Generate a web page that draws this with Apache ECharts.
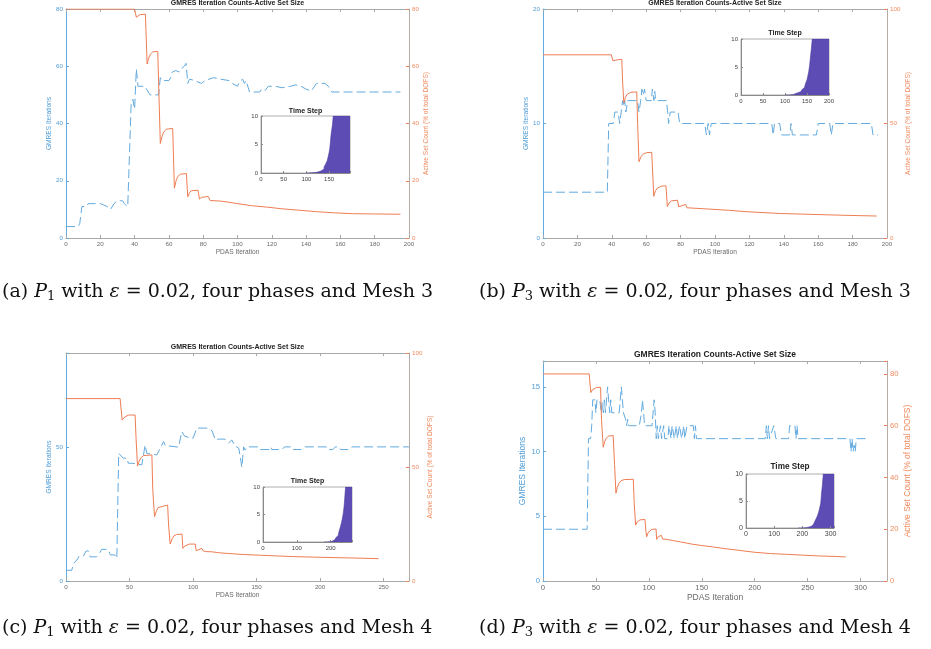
<!DOCTYPE html>
<html><head><meta charset="utf-8">
<script src="https://cdn.jsdelivr.net/npm/echarts@6/dist/echarts.min.js"></script>
<style>html,body{margin:0;padding:0;background:#fff}#c{width:931px;height:649px}</style>
</head><body><div id="c"></div>
<script>
// ---------- DATA ----------
const chartTitle = 'GMRES Iteration Counts-Active Set Size';
const insetTitle = 'Time Step';
const xName = 'PDAS Iteration';
const yLeftName = 'GMRES Iterations';
const yRightName = 'Active Set Count (% of total DOFS)';
const captions = [
  '(a) {i|P}{s|1} with {i|ε} = 0.02, four phases and Mesh 3',
  '(b) {i|P}{s|3} with {i|ε} = 0.02, four phases and Mesh 3',
  '(c) {i|P}{s|1} with {i|ε} = 0.02, four phases and Mesh 4',
  '(d) {i|P}{s|3} with {i|ε} = 0.02, four phases and Mesh 4'
];

// Panel (a)
const gmresA = [[0,4],[7,4],[8,5],[8.7,5],[9.3,11],[12,11],[13,12],[20,12],[22,11.5],[24,11],[26,10],[27,10],[28,12],[30,13],[33,13],[34,12],[36,11],[37,11],[38,47],[39,48.5],[40,45],[41,59],[42,53],[46,53],[47,52],[48,51],[49,50],[54,50],[55,56],[56,55],[60,55],[61,56],[62,58],[64,58.5],[66,58],[67,59],[69,60],[70,61],[71,54],[72,55.5],[75,55],[76,54.5],[79,54],[80,54],[81,55],[86,56],[90,55.5],[95,55],[97,54],[100,53],[101,54.5],[103,55.5],[104,54],[105,55],[107,51],[113,51],[114,52],[116,51.5],[118,53],[122,53],[126,52.5],[131,53],[134,53.5],[137,53],[140,52],[143,51.3],[144,51],[146,54],[151,54],[153,53],[155,51],[195,51]];
const activeA = [[0,80],[40,80],[41,77.1],[42,77.6],[43,78],[44,78.2],[46.3,78.2],[47.3,60.8],[48.3,63],[49.3,64.3],[50.5,65],[53.5,65.2],[54.2,50],[55,33],[56,35.5],[57,37],[58.5,38],[62.2,38.3],[63.2,17.4],[64.2,20],[65.2,21.5],[66.7,22.3],[70.2,22.5],[71,14.4],[72,15.8],[73,16.5],[77,16.7],[77.8,13.6],[79,14.2],[80,14.5],[83,14.5],[84,13.1],[90,12.9],[95,12.5],[100,12.0],[108,11.3],[117,10.8],[126,10.2],[136,9.7],[146,9.2],[156,8.8],[167,8.5],[180,8.4],[195,8.3]];
const stepA = [[100,0],[105,0.05],[112,0.1],[120,0.2],[127,0.35],[132,0.5],[136,0.7],[139,1.1],[142,1.5],[144,1.75],[146,2.2],[148,2.9],[150,3.6],[151.5,4.3],[153,5.5],[154,6.5],[156,7.7],[157.5,8.5],[159,10],[196,10]];

// Panel (b)
const gmresB = [[0,4],[37.4,4],[38.2,10],[40.8,10],[41.8,11],[43.6,11],[44.6,10],[45.5,10],[46.3,12],[47,11.5],[47.5,12],[48.2,11],[49.3,12],[55,12],[55.8,11],[56.8,12],[57.5,13],[58.3,12.5],[59,13],[60,12],[63,12],[63.6,13],[64.5,12],[65,12.8],[65.5,12],[71.7,12],[72.5,11],[73,10],[74,11],[78.5,11],[79.5,10],[94,10],[95,9],[96,10],[96.8,9],[97.8,10],[133,10],[133.8,9],[134.6,10],[137.6,10],[138.6,9],[143.5,9],[144.2,10],[145,9],[159,9],[160,10],[166.7,10],[167.6,9],[168.6,10],[190.9,10],[191.9,9],[194.8,9]];
const activeB = [[0,80],[39.7,80],[40.7,77.3],[42,77.6],[44,77.9],[45.8,78],[46.3,68],[47,59],[48,61.5],[49,62.8],[51,63.6],[54.5,63.8],[55,50],[55.8,33.3],[57,35.5],[58.5,36.8],[60.5,37.3],[63.2,37.4],[64.4,18.2],[65.3,20.5],[66.5,21.8],[68.5,22.6],[71.5,22.8],[72.3,13.7],[73.3,15.3],[74.6,16.2],[78.2,16.5],[78.9,13.6],[80,14.4],[83,14.7],[83.7,13.2],[95,12.7],[108,12.1],[118,11.5],[138,10.7],[157,10.3],[176,9.9],[194,9.6]];
const stepB = [[100,0],[110,0.1],[119,0.3],[126,0.45],[131,0.6],[136,0.85],[139,1],[142,1.3],[144,1.6],[147,2.1],[150,2.7],[152,3.4],[154,4.2],[156,5.3],[157.5,6.5],[160,8.3],[162,10],[200,10]];

// Panel (c)
const gmresC = [[0,4],[4.5,4],[6,6.6],[8.5,7.8],[10.5,9.3],[13.7,9.3],[15.8,11.2],[17.6,11.2],[19,9],[24,9],[26,10],[28,11.8],[33,11.8],[35,9.7],[38.6,9.7],[40,8.5],[41.5,47.6],[43,47.6],[45,45.8],[48,45.8],[49,43.9],[52,43.9],[53,43.3],[59.7,43.3],[62.3,50.7],[63.6,47.6],[65,47],[71.5,47],[76.8,52],[78,50.5],[79.4,49.9],[88.6,49.9],[91.2,55.7],[93.5,53.9],[95,53.2],[100,53.2],[103,57],[111,57],[115,56],[117.5,52.6],[120,52.9],[125,52.9],[128,51.4],[130.5,52.6],[133,50.4],[136,49.5],[138.5,42.4],[139.8,50],[141,48.8],[142.5,50],[152,50],[153,49],[160,49],[161,50],[162,49],[170,49],[172,50],[177,50],[178,49],[185,49],[187,50],[205,50],[206,49],[210,49],[212,50],[215,50],[216,49],[223,49],[225,50],[270,50]];
const activeC = [[0,80],[42.6,80],[44.2,70.6],[45.5,71.6],[47,72.3],[49,72.8],[54.4,72.8],[55.2,62],[56.3,50.4],[57.5,52.5],[59,54],[61,55],[67.6,55.3],[68.3,40],[69.7,28.2],[71,30.5],[72.5,32.2],[74,33],[80,33.3],[80.7,25],[82,16.2],[83.5,18.5],[85,19.8],[87,20.4],[91.3,20.6],[92,14.3],[93.5,15.3],[95,15.9],[97,16.2],[101.7,16.2],[102.5,13.3],[104,14],[107,14.3],[108,13.2],[110,12.9],[115,12.8],[120,12.4],[127,12.1],[140,11.6],[153,11.3],[166,11],[179,10.7],[200,10.4],[225,10.1],[246,9.8]];
const stepC = [[180,0],[190,0.05],[197,0.1],[203,0.25],[207,0.4],[212,0.6],[216,0.84],[219,1.15],[222,1.5],[224.5,1.85],[226.6,2.2],[229,2.8],[231.5,3.4],[234,4.1],[236.5,4.9],[238,5.6],[239.5,6.4],[241,7.5],[242.5,8.8],[244,10],[263,10]];

// Panel (d)
const gmresD = [[0,4],[41.7,4],[43,11],[45,11],[46,12],[47,14],[49,14],[50,13],[51,14],[53.7,14],[55,13],[56,13.8],[57,13],[58,14],[59,13],[60,14],[61,15],[62,14],[63,13],[64,14],[65,13],[72,13],[73,14],[74,15],[75,14],[76,13],[77,13],[78,12.5],[79,12],[80,12.5],[81,12],[91,12],[93,13],[94,14],[95,13],[96,12],[103,12],[104,13],[105,14],[106,13],[107,11],[108,12],[109,11],[111,12],[112,11],[114,12],[115,11],[118,11],[119,12],[121,11],[122,12],[124,11],[126,12],[127,11],[129,12],[130,12],[131,11],[133,12],[134,11],[136,12],[142,12],[143,11],[144,12],[145,11],[210,11],[211,12],[212,11],[213,12],[214,11],[218,12],[220,11],[232,11],[233,12],[238,12],[239,11],[240,12],[241,11],[290,11],[291,10],[292,11],[293,10],[294,10.5],[295,10],[296,11],[308,11]];
const activeD = [[0,80],[43.6,80],[45.2,72.8],[46.5,73.8],[48,74.4],[50.6,74.8],[54.4,74.8],[55.3,62],[56.9,51.7],[58.2,53.8],[60,55.3],[62,56],[66.3,56.2],[67.6,45],[68.9,33.9],[70.2,36.2],[71.8,37.8],[74,38.8],[77,39.2],[85.3,39.3],[86.2,30],[87.5,21.6],[89,22.8],[91.6,23.6],[96.3,23.8],[97.3,19],[97.9,17.1],[99.5,18.8],[102.7,19.9],[106.8,20.1],[107.4,16.1],[109,17.2],[112,17.6],[113,16.2],[117,16.1],[118,15.8],[123,15.6],[130,15.1],[140,14.3],[150,13.7],[160,13.2],[170,12.6],[186,11.8],[200,11.1],[215,10.6],[230,10.3],[245,10],[260,9.7],[275,9.5],[286,9.3]];
const stepD = [[185,0],[200,0.05],[212,0.15],[221,0.3],[230,0.55],[238,0.9],[245,1.35],[250,1.85],[255,2.5],[259,3.2],[262,3.9],[265,4.6],[268,6.5],[271,8],[274,10],[312,10]];

// ---------- STYLE / LAYOUT ----------
const BLUE_LINE = '#62aadf', BLUE_TXT = '#4e9dd7', OR_LINE = '#ee7d53', OR_TXT = '#f08b60';
const GREY = '#a9a9a9', RGREY = '#b9aaa6', LBL = '#6a6a6a', TTL = '#222';
const FONT = '"Liberation Sans", Arial, sans-serif';
const SERIF = '"DejaVu Serif", "Liberation Serif", serif';

const panels = [
  {g:[66,9,343,229], xMax:200, xInt:20, yL:[80,20], yR:[80,20], fs:6.2, nfs:6.6, tfs:7, tTop:0, xGap:11, yLGap:12.5, yRGap:13.5,
   gmres:gmresA, active:activeA, step:stepA, ins:[261,116,89,57], ixMax:196, ixInt:50, ifs:6, itfs:7, itTop:107.5},
  {g:[543,9,344,229], xMax:200, xInt:20, yL:[20,10], yR:[100,50], fs:6.2, nfs:6.6, tfs:7, tTop:0, xGap:11, yLGap:11.5, yRGap:16.5,
   gmres:gmresB, active:activeB, step:stepB, ins:[741,39,88,56], ixMax:200, ixInt:50, ifs:6, itfs:7, itTop:30},
  {g:[66,353,343,228], xMax:270, xInt:50, yL:[85,50], yR:[100,50], fs:6.2, nfs:6.6, tfs:7, tTop:344, xGap:11, yLGap:12.5, yRGap:17.5,
   gmres:gmresC, active:activeC, step:stepC, ins:[263,487,89,55], ixMax:263, ixInt:100, ifs:6, itfs:7, itTop:478},
  {g:[543,361,344,220], xMax:325, xInt:50, yL:[17,5], yR:[85,20], fs:7.7, nfs:8.5, tfs:8.5, tTop:350, xGap:12.5, yLGap:15.5, yRGap:16.5,
   gmres:gmresD, active:activeD, step:stepD, ins:[746,474,88,54], ixMax:312, ixInt:100, ifs:7, itfs:8.2, itTop:463}
];
const capPos = [[2,281],[479,281],[2,617],[479,617]];

const grids = [], xAxes = [], yAxes = [], series = [], titles = [], graphics = [];
const multOf = m => v => (Math.abs(v / m - Math.round(v / m)) < 1e-6 ? String(v) : '');

panels.forEach((p, k) => {
  const gi = grids.length;
  grids.push({left:p.g[0], top:p.g[1], width:p.g[2], height:p.g[3], show:false});
  const xb = xAxes.length;
  xAxes.push({type:'value', gridIndex:gi, position:'bottom', min:0, max:p.xMax, interval:p.xInt,
    axisLine:{show:true, onZero:false, lineStyle:{color:GREY, width:1}},
    axisTick:{show:true, inside:true, length:3, lineStyle:{color:GREY}},
    axisLabel:{color:LBL, fontSize:p.fs, fontFamily:FONT, margin:3, formatter:multOf(p.xInt)},
    splitLine:{show:false}, name:xName, nameLocation:'middle', nameGap:p.xGap,
    nameTextStyle:{color:LBL, fontSize:p.nfs, fontFamily:FONT}});
  xAxes.push({type:'value', gridIndex:gi, position:'top', min:0, max:p.xMax, interval:p.xInt,
    axisLine:{show:true, onZero:false, lineStyle:{color:GREY, width:1}},
    axisTick:{show:true, inside:true, length:3, lineStyle:{color:GREY}},
    axisLabel:{show:false}, splitLine:{show:false}});
  const yb = yAxes.length;
  yAxes.push({type:'value', gridIndex:gi, position:'left', min:0, max:p.yL[0], interval:p.yL[1],
    axisLine:{show:true, onZero:false, lineStyle:{color:BLUE_LINE, width:1}},
    axisTick:{show:true, inside:true, length:3, lineStyle:{color:BLUE_LINE}},
    axisLabel:{color:BLUE_TXT, fontSize:p.fs, fontFamily:FONT, margin:3, formatter:multOf(p.yL[1])},
    splitLine:{show:false}, name:yLeftName, nameLocation:'middle', nameGap:p.yLGap,
    nameTextStyle:{color:BLUE_TXT, fontSize:p.nfs, fontFamily:FONT}});
  yAxes.push({type:'value', gridIndex:gi, position:'right', min:0, max:p.yR[0], interval:p.yR[1],
    axisLine:{show:true, onZero:false, lineStyle:{color:RGREY, width:1}},
    axisTick:{show:true, inside:true, length:3, lineStyle:{color:OR_LINE}},
    axisLabel:{color:OR_TXT, fontSize:p.fs, fontFamily:FONT, margin:3, formatter:multOf(p.yR[1])},
    splitLine:{show:false}, name:yRightName, nameLocation:'middle', nameGap:p.yRGap,
    nameTextStyle:{color:OR_TXT, fontSize:p.nfs, fontFamily:FONT}});
  series.push({type:'line', xAxisIndex:xb, yAxisIndex:yb, data:p.gmres, showSymbol:false, symbol:'none',
    lineStyle:{color:BLUE_LINE, width:1, type:[9,4]}, z:2, silent:true});
  series.push({type:'line', xAxisIndex:xb, yAxisIndex:yb+1, data:p.active, showSymbol:false, symbol:'none',
    lineStyle:{color:OR_LINE, width:1}, z:2, silent:true});
  titles.push({text:chartTitle, left:p.g[0] + p.g[2] / 2, textAlign:'center', top:p.tTop, padding:0,
    textStyle:{fontSize:p.tfs, fontWeight:'bold', color:TTL, fontFamily:FONT}});

  // inset
  const ii = grids.length;
  grids.push({left:p.ins[0], top:p.ins[1], width:p.ins[2], height:p.ins[3], show:true,
    backgroundColor:'#ffffff', borderColor:'#9a9a9a', borderWidth:0.8, z:5});
  const ix = xAxes.length;
  xAxes.push({type:'value', gridIndex:ii, position:'bottom', min:0, max:p.ixMax, interval:p.ixInt, z:6,
    axisLine:{show:true, onZero:false, lineStyle:{color:'#8a8a8a', width:1}},
    axisTick:{show:true, inside:true, length:2, lineStyle:{color:'#8a8a8a'}},
    axisLabel:{color:'#444', fontSize:p.ifs, fontFamily:FONT, margin:3, formatter:multOf(p.ixInt)},
    splitLine:{show:false}});
  const iy = yAxes.length;
  yAxes.push({type:'value', gridIndex:ii, position:'left', min:0, max:10, interval:5, z:6,
    axisLine:{show:true, onZero:false, lineStyle:{color:'#8a8a8a', width:1}},
    axisTick:{show:true, inside:true, length:2, lineStyle:{color:'#8a8a8a'}},
    axisLabel:{color:'#444', fontSize:p.ifs, fontFamily:FONT, margin:3},
    splitLine:{show:false}});
  series.push({type:'line', step:'end', xAxisIndex:ix, yAxisIndex:iy, data:p.step, showSymbol:false, symbol:'none',
    lineStyle:{width:0.6, color:'#4a3b9e'}, areaStyle:{color:'#5c4cb4', opacity:1}, z:6, silent:true});
  titles.push({text:insetTitle, left:p.ins[0] + p.ins[2] / 2, textAlign:'center', top:p.itTop, padding:0,
    textStyle:{fontSize:p.itfs, fontWeight:'bold', color:TTL, fontFamily:FONT}});

  graphics.push({type:'text', left:capPos[k][0], top:capPos[k][1],
    style:{text:captions[k], fontSize:19, fontFamily:SERIF, fill:'#111', lineHeight:22,
      rich:{
        i:{fontStyle:'italic', fontSize:19, fontFamily:SERIF, fill:'#111', lineHeight:22},
        s:{fontSize:13, fontFamily:SERIF, fill:'#111', lineHeight:13, verticalAlign:'bottom'}
      }}});
});

const chart = echarts.init(document.getElementById('c'), null, {renderer:'canvas'});
chart.setOption({
  animation:false, backgroundColor:'#ffffff',
  title:titles, grid:grids, xAxis:xAxes, yAxis:yAxes, series:series, graphic:graphics,
  tooltip:{show:false}
});
</script></body></html>
